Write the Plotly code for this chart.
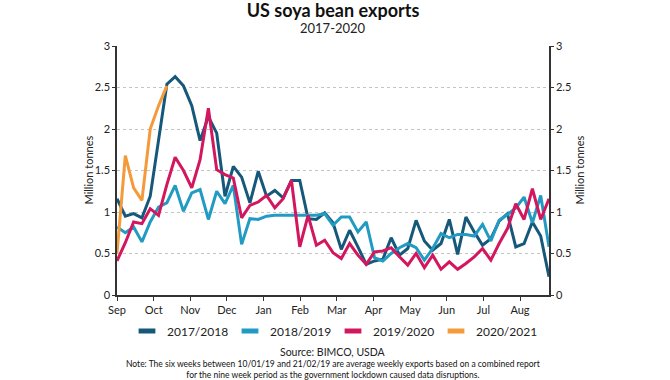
import plotly.graph_objects as go

# ---------------- data (weekly, Sep -> Aug) ----------------
month_labels = ["Sep", "Oct", "Nov", "Dec", "Jan", "Feb", "Mar", "Apr", "May", "Jun", "Jul", "Aug"]

exports_2017_2018 = [1.16, 0.95, 0.98, 0.93, 1.19, 1.85, 2.54, 2.63, 2.52, 2.28, 1.86, 2.15, 1.95,
                     1.19, 1.55, 1.42, 1.11, 1.49, 1.19, 1.26, 1.17, 1.38, 1.38, 0.92, 0.91, 0.99,
                     0.87, 0.55, 0.78, 0.58, 0.37, 0.41, 0.43, 0.69, 0.48, 0.56, 0.90, 0.65, 0.54,
                     0.62, 0.91, 0.49, 0.94, 0.76, 0.60, 0.68, 0.89, 0.98, 0.58, 0.62, 0.88, 0.71, 0.22]

exports_2018_2019 = [0.82, 0.75, 0.82, 0.64, 0.88, 1.06, 1.11, 1.32, 1.01, 1.23, 1.27, 0.91, 1.25,
                     1.10, 1.32, 0.61, 0.92, 0.91, 0.95, 0.96, 0.96, 0.96, 0.96, 0.96, 0.96, 0.98,
                     0.84, 0.94, 0.94, 0.76, 0.88, 0.45, 0.41, 0.50, 0.57, 0.62, 0.57, 0.42, 0.56,
                     0.74, 0.69, 0.73, 0.73, 0.71, 0.85, 0.65, 0.90, 0.97, 1.05, 1.18, 0.87, 1.20, 0.58]

exports_2019_2020 = [0.41, 0.63, 0.88, 0.86, 1.04, 0.96, 1.33, 1.66, 1.50, 1.29, 1.63, 2.25, 1.51,
                     1.45, 1.41, 0.93, 1.08, 1.12, 1.20, 1.05, 1.16, 1.38, 0.58, 0.96, 0.60, 0.66,
                     0.51, 0.44, 0.62, 0.48, 0.37, 0.52, 0.53, 0.57, 0.46, 0.36, 0.50, 0.33, 0.48,
                     0.31, 0.40, 0.31, 0.38, 0.46, 0.56, 0.42, 0.62, 0.80, 1.10, 0.91, 1.28, 0.91, 1.16]

exports_2020_2021 = [0.50, 1.68, 1.29, 1.14, 2.00, 2.28, 2.52]

series_names = ["2017/2018", "2018/2019", "2019/2020", "2020/2021"]
series_values = [exports_2017_2018, exports_2018_2019, exports_2019_2020, exports_2020_2021]
series_colors = ["#16587a", "#229bc3", "#d3175f", "#f59a3a"]

y_ticks = [0, 0.5, 1, 1.5, 2, 2.5, 3]
y_tick_text = ["0", "0.5", "1", "1.5", "2", "2.5", "3"]

note_lines = [
    "Note: The six weeks between 10/01/19 and 21/02/19 are average weekly exports based on a combined report",
    "for the nine week period as the government lockdown caused data disruptions.",
]

WEEKS_PER_MONTH = 4.41
month_pos = [i * WEEKS_PER_MONTH for i in range(len(month_labels))]

FONT = "Lato, 'Open Sans', sans-serif"
TXT = "#222222"

fig = go.Figure()

for name, vals, col in zip(series_names, series_values, series_colors):
    fig.add_trace(go.Scatter(
        x=list(range(len(vals))), y=vals, mode="lines", name=name,
        line=dict(color=col, width=3), showlegend=False,
        hovertemplate=name + ": %{y}<extra></extra>",
    ))

# legend entries (short dashes)
for name, col in zip(series_names, series_colors):
    fig.add_trace(go.Scatter(
        x=[None], y=[None], mode="markers", name=name,
        marker=dict(symbol="line-ew", size=12, color=col, line=dict(color=col, width=5)),
        showlegend=True,
    ))

# invisible trace for right axis
fig.add_trace(go.Scatter(x=[None], y=[None], yaxis="y2", showlegend=False, hoverinfo="skip"))

fig.update_layout(
    width=670, height=380,
    margin=dict(l=117, r=121, t=46, b=85),
    paper_bgcolor="white", plot_bgcolor="white",
    font=dict(family=FONT, color=TXT, size=11),
    title=dict(text="<b>US soya bean exports</b>", x=0.5, xref="paper",
               y=1 - 11 / 380, yref="container", yanchor="middle",
               font=dict(size=18, color="#111111", family=FONT)),
    xaxis=dict(
        range=[0, 52], tickmode="array", tickvals=month_pos, ticktext=month_labels,
        showgrid=False, zeroline=False, showline=True, linecolor="#333333", linewidth=1.5,
        ticks="outside", ticklen=4, tickcolor="#333333", tickwidth=1,
        tickfont=dict(size=11, color=TXT),
    ),
    yaxis=dict(
        range=[0, 3], tickmode="array", tickvals=y_ticks, ticktext=y_tick_text,
        showgrid=True, gridcolor="#c4c4c4", griddash="dot", gridwidth=1,
        zeroline=False, showline=True, linecolor="#333333", linewidth=1.5,
        ticks="outside", ticklen=3, tickcolor="#333333",
        tickfont=dict(size=11, color=TXT),
    ),
    yaxis2=dict(
        range=[0, 3], tickmode="array", tickvals=y_ticks, ticktext=y_tick_text,
        overlaying="y", side="right", showgrid=False, zeroline=False,
        showline=True, linecolor="#333333", linewidth=1.5,
        ticks="outside", ticklen=3, tickcolor="#333333",
        tickfont=dict(size=11, color=TXT),
    ),
    legend=dict(
        orientation="h", x=0.5, xanchor="center", y=(295 - 331) / 249, yanchor="middle",
        entrywidth=58, font=dict(size=12, color=TXT), bgcolor="rgba(0,0,0,0)",
        itemclick=False, itemdoubleclick=False,
    ),
    showlegend=True,
)

annotations = [
    dict(text="2017-2020", x=0.5, y=(295 - 28) / 249, xref="paper", yref="paper",
         showarrow=False, font=dict(size=13, color=TXT), xanchor="center", yanchor="middle"),
    dict(text="Million tonnes", x=(88 - 117) / 432, y=0.5, xref="paper", yref="paper",
         showarrow=False, textangle=-90, font=dict(size=11, color=TXT),
         xanchor="center", yanchor="middle"),
    dict(text="Million tonnes", x=(579 - 117) / 432, y=0.5, xref="paper", yref="paper",
         showarrow=False, textangle=-90, font=dict(size=11, color=TXT),
         xanchor="center", yanchor="middle"),
    dict(text="Source: BIMCO, USDA", x=0.5, y=(295 - 352) / 249, xref="paper", yref="paper",
         showarrow=False, font=dict(size=10.5, color=TXT), xanchor="center", yanchor="middle"),
    dict(text="<br>".join(note_lines), x=0.5, y=(295 - 369) / 249, xref="paper", yref="paper",
         showarrow=False, font=dict(size=8.5, color="#111111"),
         xanchor="center", yanchor="middle", align="center", borderpad=0),
]
fig.update_layout(annotations=annotations)

fig.write_html("out.html", config={"displayModeBar": False},
               post_script="document.body.style.margin='0px';")
